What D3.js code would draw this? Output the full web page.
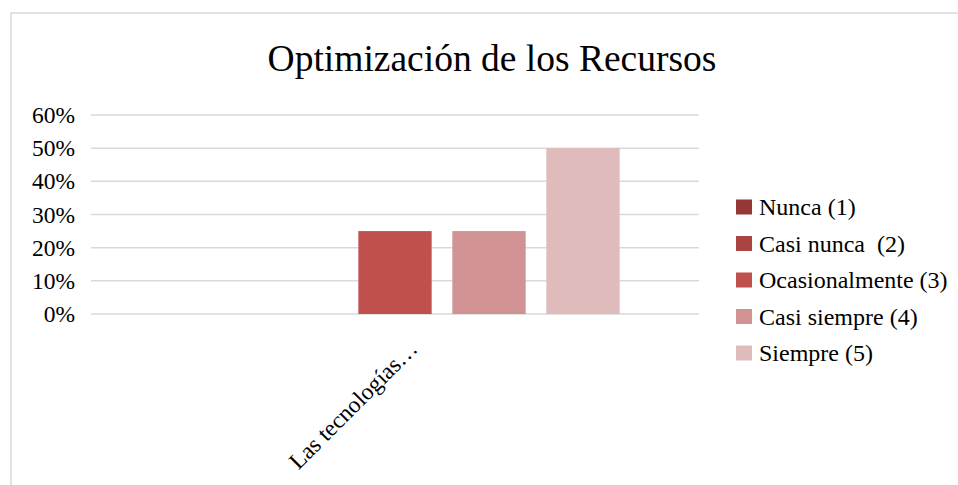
<!DOCTYPE html>
<html>
<head>
<meta charset="utf-8">
<script src="https://cdn.jsdelivr.net/npm/d3@7"></script>
<style>
  body { margin: 0; background: #fff; }
  text { font-family: "Liberation Serif", "Times New Roman", serif; fill: #000; }
</style>
</head>
<body>
<svg id="chart"></svg>
<script>
// data
var categories = ["Las tecnologías…"];
var seriesNames = ["Nunca (1)", "Casi nunca  (2)", "Ocasionalmente (3)", "Casi siempre (4)", "Siempre (5)"];
var seriesValues = [0, 0, 0.25, 0.25, 0.5];
var seriesColors = ["#953735", "#a94442", "#c0504d", "#d09292", "#dfbbbb"];
var yTicks = [0, 0.1, 0.2, 0.3, 0.4, 0.5, 0.6];
var chartTitle = "Optimización de los Recursos";

var svgWidth = 958, svgHeight = 485;
var svg = d3.select("#chart").attr("width", svgWidth).attr("height", svgHeight);

var plot = {left: 91, right: 699, top: 115, bottom: 314};

// outer frame
svg.append("rect")
    .attr("x", 11).attr("y", 13)
    .attr("width", 980).attr("height", 500)
    .attr("fill", "#fff")
    .attr("stroke", "#d9d9d9")
    .attr("stroke-width", 1.5);

svg.append("text")
    .text(chartTitle)
    .attr("x", 492)
    .attr("y", 71)
    .attr("text-anchor", "middle")
    .style("font-size", "37.5px");

var yScale = d3.scaleLinear().domain([0, 0.6]).range([plot.bottom, plot.top]);

var xScale = d3.scaleBand()
    .domain(categories)
    .range([plot.left, plot.right])
    .padding(0.128);

var xInner = d3.scaleBand()
    .domain(seriesNames)
    .range([0, xScale.bandwidth()])
    .paddingInner(0.22)
    .paddingOuter(0.11);

// gridlines
svg.append("g")
  .selectAll("line")
  .data(yTicks)
  .enter()
  .append("line")
    .attr("x1", plot.left)
    .attr("x2", plot.right)
    .attr("y1", function(d){ return yScale(d); })
    .attr("y2", function(d){ return yScale(d); })
    .attr("stroke", "#d9d9d9")
    .attr("stroke-width", 1.5);

// y axis labels
var yAxis = d3.axisLeft(yScale)
    .tickValues(yTicks)
    .tickFormat(d3.format(".0%"))
    .tickSize(0)
    .tickPadding(16);

var yg = svg.append("g")
    .attr("transform", "translate(" + plot.left + ",0)")
    .call(yAxis);
yg.select(".domain").remove();
yg.selectAll("text")
    .style("font-family", '"Liberation Serif", "Times New Roman", serif')
    .style("font-size", "23.5px")
    .attr("fill", "#000");

// bars
categories.forEach(function(cat){
    var g = svg.append("g").attr("transform", "translate(" + xScale(cat) + ",0)");
    g.selectAll("rect")
        .data(seriesValues)
        .enter()
        .append("rect")
        .attr("x", function(d, i){ return xInner(seriesNames[i]); })
        .attr("y", function(d){ return yScale(d); })
        .attr("width", xInner.bandwidth())
        .attr("height", function(d){ return yScale(0) - yScale(d); })
        .attr("fill", function(d, i){ return seriesColors[i]; });

    svg.append("text")
        .text(cat)
        .attr("text-anchor", "end")
        .attr("transform", "translate(" + (xScale(cat) + xScale.bandwidth()/2 + 24) + "," + (plot.bottom + 36) + ") rotate(-45)")
        .style("font-size", "23.5px");
});

// legend
var legend = svg.append("g").attr("transform", "translate(736,207)");
var rows = legend.selectAll("g")
    .data(seriesNames)
    .enter()
    .append("g")
    .attr("transform", function(d, i){ return "translate(0," + (i * 36.5) + ")"; });

rows.append("rect")
    .attr("x", 0).attr("y", -7.5)
    .attr("width", 16).attr("height", 15)
    .attr("fill", function(d, i){ return seriesColors[i]; });

rows.append("text")
    .text(function(d){ return d; })
    .attr("x", 23)
    .attr("y", 8)
    .style("font-size", "24px")
    .style("white-space", "pre");
</script>
</body>
</html>
